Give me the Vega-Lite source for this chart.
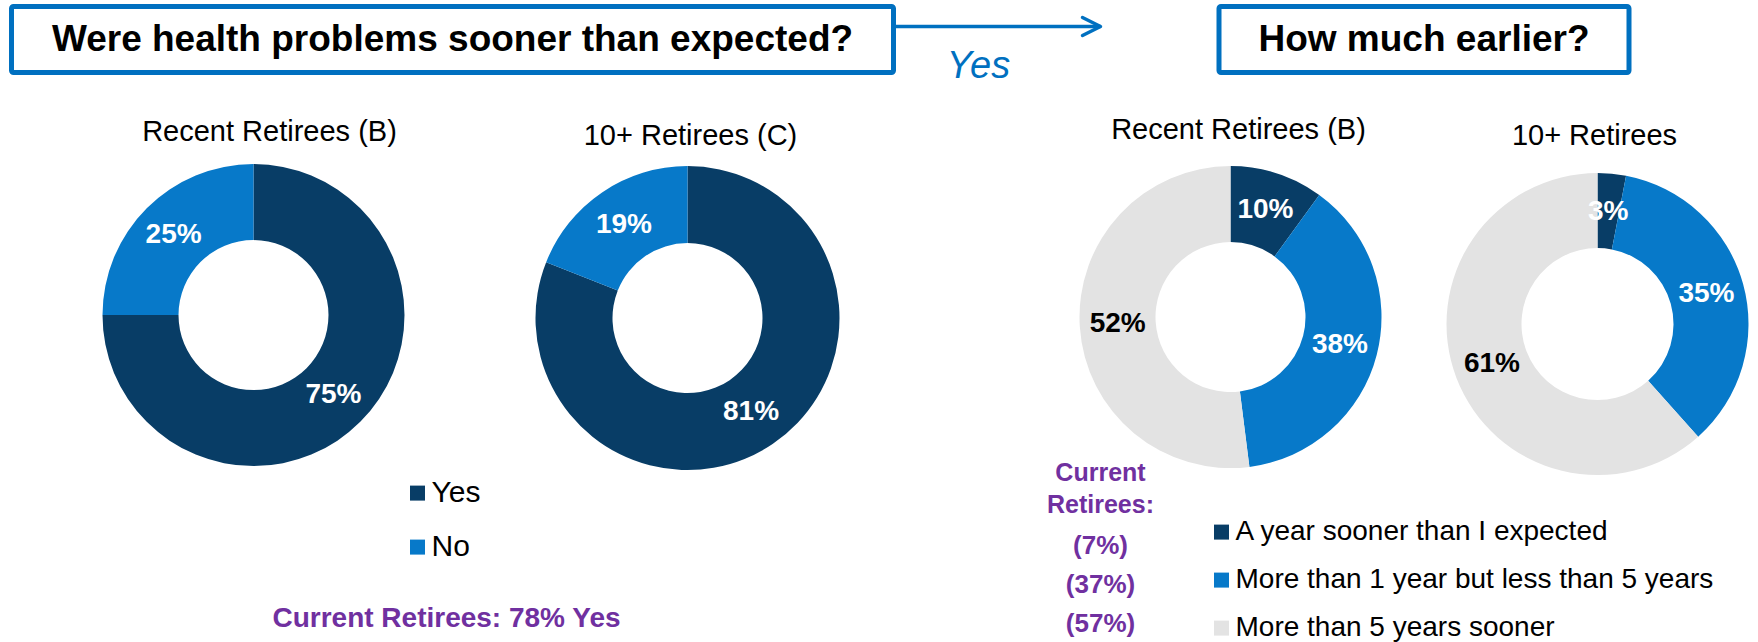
{
  "$schema": "https://vega.github.io/schema/vega-lite/v6.json",
  "autosize": {"type": "pad"},
  "padding": {"left": 8.5, "top": 3.5, "right": 0, "bottom": 0},
  "background": "white",
  "config": {
    "font": "Liberation Sans",
    "view": {"stroke": null},
    "title": {"font": "Liberation Sans", "color": "#000000", "fontWeight": "normal"},
    "text": {"font": "Liberation Sans"},
    "legend": {"labelFont": "Liberation Sans", "labelColor": "#000000", "title": null, "symbolType": "square", "symbolStrokeWidth": 0, "padding": 0, "labelLimit": 700}
  },
  "vconcat": [
    {
      "hconcat": [
        {
          "hconcat": [
            {
              "width": 882, "height": 66,
              "view": {"stroke": "#0070C0", "strokeWidth": 5, "cornerRadius": 2, "fill": "white"},
              "data": {"values": [{"t": "Were health problems sooner than expected?"}]},
              "mark": {"type": "text", "fontSize": 37, "fontWeight": "bold", "color": "#000000", "baseline": "middle", "align": "center"},
              "encoding": {"text": {"field": "t"}}
            },
            {
              "width": 207, "height": 20,
              "data": {"values": [{"a": 1}]},
              "title": {"text": "Yes", "orient": "bottom", "fontSize": 38, "fontStyle": "italic", "fontWeight": "normal", "color": "#0070C0", "dx": -18.5, "offset": 10.5},
              "layer": [
                {"mark": {"type": "rule", "color": "#0070C0", "strokeWidth": 3.5}, "encoding": {"y": {"value": "height"}}},
                {"mark": {"type": "point", "shape": "M-2,-1L0,0L-2,1", "size": 324, "filled": false, "color": "#0070C0", "strokeWidth": 3.5, "opacity": 1, "strokeCap": "round", "strokeJoin": "round"},
                 "encoding": {"x": {"value": "width"}, "y": {"value": "height"}}}
              ]
            }
          ],
          "spacing": 0, "bounds": "flush"
        },
        {
          "width": 410, "height": 66,
          "view": {"stroke": "#0070C0", "strokeWidth": 5, "cornerRadius": 2, "fill": "white"},
          "data": {"values": [{"t": "How much earlier?"}]},
          "mark": {"type": "text", "fontSize": 37, "fontWeight": "bold", "color": "#000000", "baseline": "middle", "align": "center"},
          "encoding": {"text": {"field": "t"}}
        }
      ],
      "spacing": 113.5
    },
    {
      "hconcat": [
        {
          "vconcat": [
            {
              "hconcat": [
                {
                  "width": 484, "height": 310,
                  "title": {"text": "Recent Retirees (B)", "dx": 16, "offset": 13.6, "fontSize": 29},
                  "data": {"values": [
                    {"category": "Yes", "value": 75, "label": "75%", "idx": 1},
                    {"category": "No", "value": 25, "label": "25%", "idx": 2}
                  ]},
                  "encoding": {
                    "theta": {"field": "value", "type": "quantitative", "stack": true},
                    "order": {"field": "idx", "type": "quantitative"}
                  },
                  "layer": [
                    {"mark": {"type": "arc", "outerRadius": 151, "innerRadius": 75},
                     "encoding": {"color": {"field": "category", "type": "nominal",
                       "scale": {"domain": ["Yes", "No"], "range": ["#083D66", "#0779C9"]},
                       "legend": {"orient": "none", "legendX": 391, "legendY": 318, "labelFontSize": 30, "symbolSize": 225, "labelOffset": -1, "rowPadding": 24, "direction": "vertical"}}}},
                    {"mark": {"type": "text", "radius": 113, "fontSize": 28, "fontWeight": "bold"},
                     "encoding": {"text": {"field": "label"}, "detail": {"field": "category"}, "color": {"value": "white"}}}
                  ]
                },
                {
                  "width": 310, "height": 316,
                  "title": {"text": "10+ Retirees (C)", "dx": 3, "offset": 9.1, "fontSize": 29},
                  "data": {"values": [
                    {"category": "Yes", "value": 81, "label": "81%", "idx": 1},
                    {"category": "No", "value": 19, "label": "19%", "idx": 2}
                  ]},
                  "encoding": {
                    "theta": {"field": "value", "type": "quantitative", "stack": true},
                    "order": {"field": "idx", "type": "quantitative"}
                  },
                  "layer": [
                    {"mark": {"type": "arc", "outerRadius": 152, "innerRadius": 75},
                     "encoding": {"color": {"field": "category", "type": "nominal",
                       "scale": {"domain": ["Yes", "No"], "range": ["#083D66", "#0779C9"]},
                       "legend": {"orient": "none", "legendX": 391, "legendY": 318, "labelFontSize": 30, "symbolSize": 225, "labelOffset": -1, "rowPadding": 24, "direction": "vertical"}}}},
                    {"mark": {"type": "text", "radius": 113, "fontSize": 28, "fontWeight": "bold"},
                     "encoding": {"text": {"field": "label"}, "detail": {"field": "category"}, "color": {"value": "white"}}}
                  ]
                }
              ],
              "spacing": 37, "bounds": "flush"
            },
            {
              "width": 831, "height": 20,
              "data": {"values": [{"t": "Current Retirees: 78% Yes"}]},
              "mark": {"type": "text", "fontSize": 28, "fontWeight": "bold", "color": "#7030A0", "dx": 19.5, "baseline": "middle"},
              "encoding": {"text": {"field": "t"}}
            }
          ],
          "spacing": 129
        },
        {
          "vconcat": [
            {
              "hconcat": [
                {
                  "width": 310, "height": 314,
                  "title": {"text": "Recent Retirees (B)", "dx": 8, "offset": 15.6, "fontSize": 29},
                  "data": {"values": [
                    {"category": "A year sooner than I expected", "value": 10, "label": "10%", "idx": 1},
                    {"category": "More than 1 year but less than 5 years", "value": 38, "label": "38%", "idx": 2},
                    {"category": "More than 5 years sooner", "value": 52, "label": "52%", "idx": 3}
                  ]},
                  "encoding": {
                    "theta": {"field": "value", "type": "quantitative", "stack": true},
                    "order": {"field": "idx", "type": "quantitative"}
                  },
                  "layer": [
                    {"mark": {"type": "arc", "outerRadius": 151, "innerRadius": 75},
                     "encoding": {"color": {"field": "category", "type": "nominal",
                       "scale": {"domain": ["A year sooner than I expected", "More than 1 year but less than 5 years", "More than 5 years sooner"], "range": ["#083D66", "#0779C9", "#E3E3E3"]},
                       "legend": {"orient": "none", "legendX": 132, "legendY": 358, "labelFontSize": 28, "symbolSize": 225, "labelOffset": 0, "rowPadding": 20, "direction": "vertical"}}}},
                    {"mark": {"type": "text", "radius": 113, "fontSize": 28, "fontWeight": "bold"},
                     "encoding": {"text": {"field": "label"}, "detail": {"field": "category"},
                       "color": {"condition": {"test": "datum.category === 'More than 5 years sooner'", "value": "#000000"}, "value": "white"}}}
                  ]
                },
                {
                  "width": 310, "height": 328,
                  "title": {"text": "10+ Retirees", "dx": -3, "offset": 9.1, "fontSize": 29},
                  "data": {"values": [
                    {"category": "A year sooner than I expected", "value": 3, "label": "3%", "idx": 1},
                    {"category": "More than 1 year but less than 5 years", "value": 35, "label": "35%", "idx": 2},
                    {"category": "More than 5 years sooner", "value": 61, "label": "61%", "idx": 3}
                  ]},
                  "encoding": {
                    "theta": {"field": "value", "type": "quantitative", "stack": true},
                    "order": {"field": "idx", "type": "quantitative"}
                  },
                  "layer": [
                    {"mark": {"type": "arc", "outerRadius": 151, "innerRadius": 76},
                     "encoding": {"color": {"field": "category", "type": "nominal",
                       "scale": {"domain": ["A year sooner than I expected", "More than 1 year but less than 5 years", "More than 5 years sooner"], "range": ["#083D66", "#0779C9", "#E3E3E3"]},
                       "legend": {"orient": "none", "legendX": 132, "legendY": 358, "labelFontSize": 28, "symbolSize": 225, "labelOffset": 0, "rowPadding": 20, "direction": "vertical"}}}},
                    {"mark": {"type": "text", "radius": 113, "fontSize": 28, "fontWeight": "bold"},
                     "encoding": {"text": {"field": "label"}, "detail": {"field": "category"},
                       "color": {"condition": {"test": "datum.category === 'More than 5 years sooner'", "value": "#000000"}, "value": "white"}}}
                  ]
                }
              ],
              "spacing": 57, "bounds": "flush"
            },
            {
              "width": 50, "height": 78,
              "title": {"text": ["Current", " Retirees:"], "fontSize": 25, "fontWeight": "bold", "color": "#7030A0", "lineHeight": 32, "offset": 15},
              "data": {"values": [
                {"category": "A year sooner than I expected", "current": "(7%)"},
                {"category": "More than 1 year but less than 5 years", "current": "(37%)"},
                {"category": "More than 5 years sooner", "current": "(57%)"}
              ]},
              "mark": {"type": "text", "fontSize": 26, "fontWeight": "bold", "color": "#7030A0", "baseline": "middle"},
              "encoding": {
                "y": {"field": "category", "type": "nominal", "sort": null, "scale": {"type": "point", "padding": 0}, "axis": null},
                "text": {"field": "current"}
              }
            }
          ],
          "spacing": -27
        }
      ],
      "spacing": 204,
      "resolve": {"scale": {"color": "independent"}, "legend": {"color": "independent"}}
    }
  ],
  "spacing": 28.6
}
